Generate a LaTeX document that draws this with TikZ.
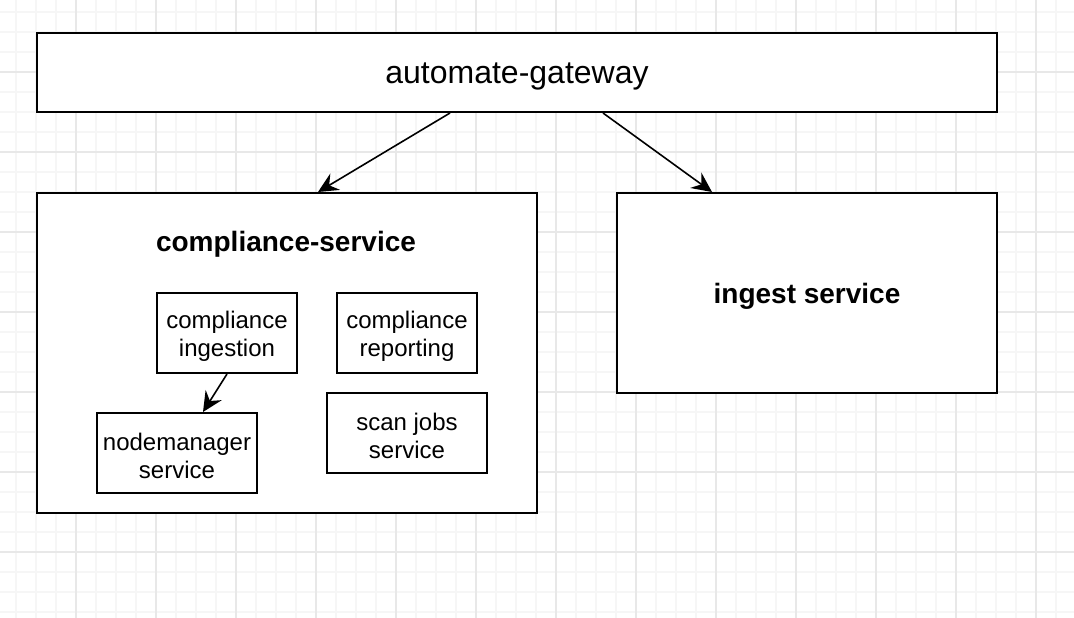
\documentclass[tikz,border=0pt]{standalone}
\usepackage{fontspec}
\setmainfont{Liberation Sans}
\usetikzlibrary{arrows.meta}
\tikzset{
  box/.style={draw=black, line width=2pt, fill=white, inner sep=0pt},
  arr/.style={draw=black, line width=1.6pt, -{Stealth[length=20pt,width=19pt,inset=7pt]}},
  txt/.style={inner sep=0pt, align=center},
  small/.style={txt, font=\fontsize{24}{28}\selectfont},
  big/.style={txt, font=\fontsize{32}{36}\selectfont},
  title/.style={txt, font=\fontsize{28}{32}\selectfont\bfseries},
  minor/.style={black!3.5,line width=1.5pt},
  major/.style={black!9,line width=1.2pt},
}
\begin{document}
\begin{tikzpicture}[x=1pt,y=-1pt]
\useasboundingbox (0,0) rectangle (1074,618);
% grid
\foreach \x in {16,36,...,1066} \draw[minor] (\x,0) -- (\x,618);
\foreach \y in {12,32,...,612} \draw[minor] (0,\y) -- (1074,\y);
\foreach \x in {76,156,...,1066} \draw[major] (\x,0) -- (\x,618);
\foreach \y in {72,152,...,612} \draw[major] (0,\y) -- (1074,\y);
% boxes
\node[box,minimum width=960pt,minimum height=79pt] (gw) at (517,72.5) {};
\node[box,minimum width=500pt,minimum height=320pt] (cs) at (287,353) {};
\node[box,minimum width=380pt,minimum height=200pt] (ing) at (807,293) {};
\node[box,minimum width=140pt,minimum height=80pt] (ci) at (227,333) {};
\node[box,minimum width=140pt,minimum height=80pt] (cr) at (407,333) {};
\node[box,minimum width=160pt,minimum height=80pt] (nm) at (177,453) {};
\node[box,minimum width=160pt,minimum height=80pt] (sj) at (407,433) {};
% texts
\node[big] (gwt) at ([yshift=-4pt]gw.center) {automate-gateway};
\node[title] (cst) at (286,244) {compliance-service};
\node[title] (ingt) at ([yshift=-3pt]ing.center) {ingest service};
\node[small] (cit) at ([yshift=-3pt]ci.center) {compliance\\ingestion};
\node[small] (crt) at ([yshift=-3pt]cr.center) {compliance\\reporting};
\node[small] (nmt) at ([yshift=-3pt]nm.center) {nodemanager\\service};
\node[small] (sjt) at ([yshift=-3pt]sj.center) {scan jobs\\service};
% connectors
\draw[arr] ([xshift=-67pt]gw.south) -- ([xshift=31pt]cs.north);
\draw[arr] ([xshift=86pt]gw.south) -- ([xshift=-95pt]ing.north);
\draw[arr] (ci.south) -- ([xshift=26pt]nm.north);
\end{tikzpicture}
\end{document}
